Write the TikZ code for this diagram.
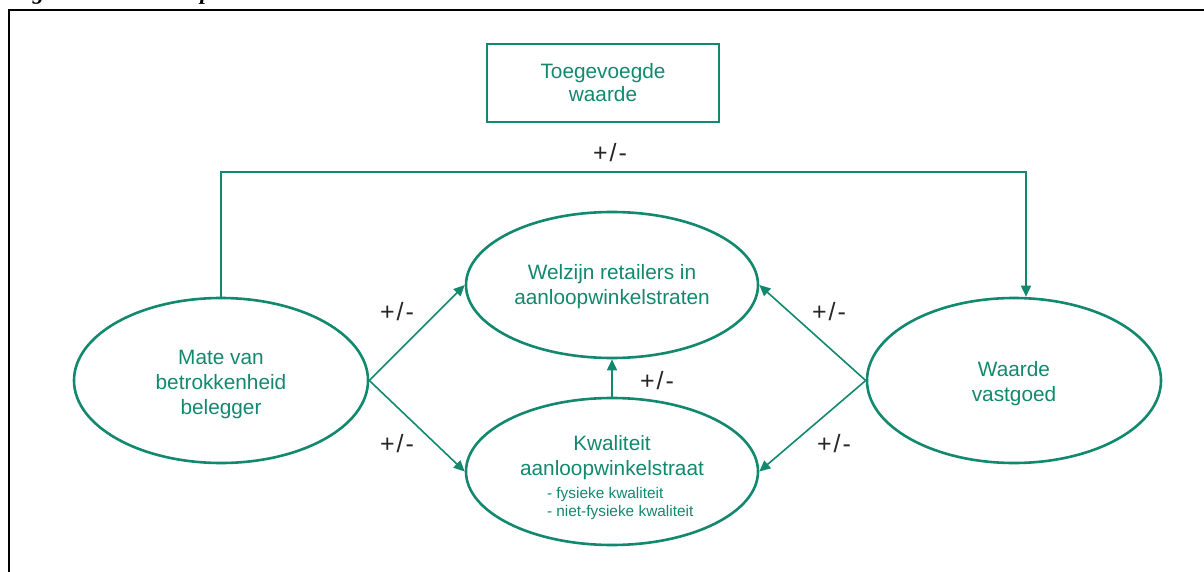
\documentclass[tikz,border=0pt]{standalone}
\usepackage{fontspec}
\setmainfont{Liberation Sans}
\newfontfamily\capfont{Liberation Serif}
\usetikzlibrary{shapes.geometric,arrows.meta}
\definecolor{teal1}{RGB}{18,136,110}
\newcommand\smallfnt{\fontsize{15.4}{18}\selectfont}
\newcommand\tstrut[1]{\rule{0pt}{#1}}
\tikzset{
  oval/.style={ellipse, draw=teal1, line width=2.6pt, text=teal1, align=center, inner sep=0pt,
    font=\fontsize{20.8}{25}\selectfont},
  conn/.style={draw=teal1, line width=1.6pt, -{Triangle[length=11pt,width=10pt]}},
  pm/.style={font=\fontsize{25}{25}\selectfont, text=black!85, inner sep=0pt}
}
\begin{document}
\begin{tikzpicture}[x=1pt,y=-1pt]
\useasboundingbox (0,0) rectangle (1204,572);
\draw[line width=2pt] (9,600) -- (9,10) -- (1230,10);
\node[anchor=base west, inner sep=0pt, font=\capfont\bfseries\itshape\fontsize{23}{23}\selectfont] (cap) at (11,-0.5) {Figuur 1.1 -- Conceptueel model};

\node[draw=teal1, line width=2.6pt, minimum width=232pt, minimum height=78pt, text=teal1,
  align=center, font=\fontsize{20.8}{23}\selectfont] (tw) at (603,83) {Toegevoegde\\waarde};

\node[oval, minimum width=294pt, minimum height=165pt] (mate) at (221,380.5) {\tstrut{22pt}Mate van\\betrokkenheid\\belegger};
\node[oval, minimum width=294pt, minimum height=165pt] (waarde) at (1014,380.5) {\tstrut{22pt}Waarde\\vastgoed};
\node[oval, minimum width=292pt, minimum height=146pt] (welzijn) at (612,285) {\tstrut{19pt}Welzijn retailers in\\aanloopwinkelstraten};
\node[oval, minimum width=292pt, minimum height=147pt] (kwal) at (612,471.5)
  {\tstrut{27pt}Kwaliteit\\aanloopwinkelstraat\\[-2pt]
   \smallfnt\hspace*{16pt}\makebox[146pt][l]{- fysieke kwaliteit}\\[-7pt]
   \smallfnt\hspace*{16pt}\makebox[146pt][l]{- niet-fysieke kwaliteit}};

\coordinate (topline) at (612,172);
\coordinate (wtop) at ([xshift=12pt]waarde.north);
\draw[conn] (mate.north) |- (topline) -| (wtop);
\draw[conn] (mate.east) -- (welzijn.west);
\draw[conn] (mate.east) -- (kwal.west);
\draw[conn] (waarde.west) -- (welzijn.east);
\draw[conn] (waarde.west) -- (kwal.east);
\draw[conn] (kwal.north) -- (welzijn.south);

\node[pm] (l1) at (610,153) {+\kern2pt/\kern2pt-};
\node[pm] (l2) at (397,312) {+\kern2pt/\kern2pt-};
\node[pm] (l3) at (397,444) {+\kern2pt/\kern2pt-};
\node[pm] (l4) at (657,381) {+\kern2pt/\kern2pt-};
\node[pm] (l5) at (829,312) {+\kern2pt/\kern2pt-};
\node[pm] (l6) at (834,444) {+\kern2pt/\kern2pt-};
\end{tikzpicture}
\end{document}
